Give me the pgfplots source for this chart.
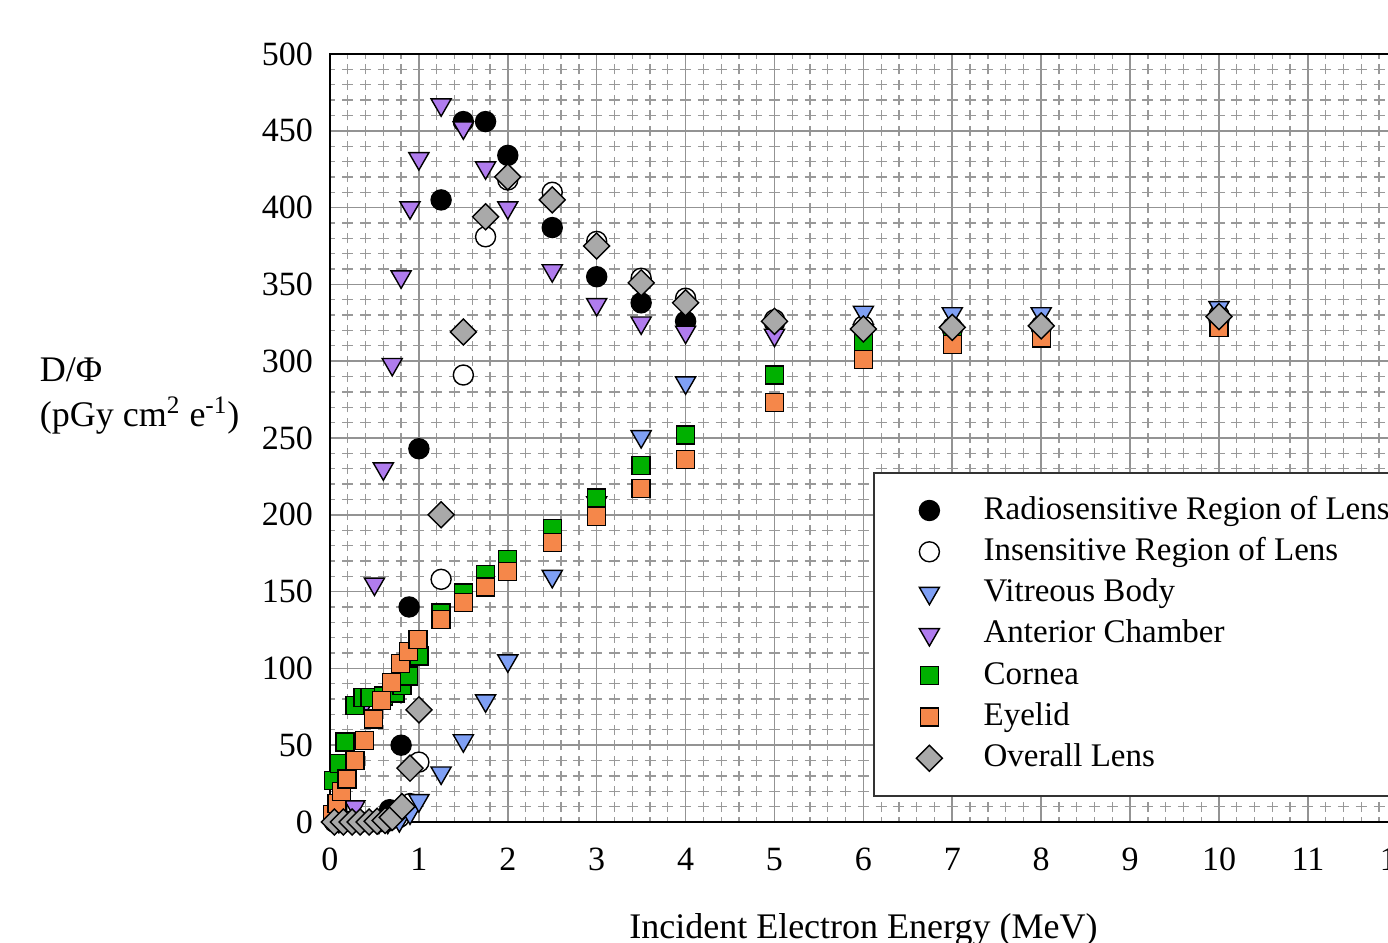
\documentclass[border=0pt]{standalone}
\usepackage{fontspec}
\setmainfont{Liberation Serif}
\usepackage{pgfplots}
\pgfplotsset{compat=1.18}

\definecolor{vitblue}{HTML}{7FA0F5}
\definecolor{antpurple}{HTML}{B07CEE}
\definecolor{corgreen}{HTML}{00B000}
\definecolor{eyeorange}{HTML}{F5874A}
\definecolor{lensgray}{HTML}{A9A9A9}

\newcommand{\tickfont}{\fontsize{17}{20}\selectfont}
\newcommand{\labfont}{\fontsize{18}{22.5}\selectfont}
\newcommand{\legfont}{\fontsize{16.5}{20}\selectfont}

\begin{document}
\begin{tikzpicture}
\useasboundingbox (-165pt,-60.5pt) rectangle (529pt,411pt);
\clip (-165pt,-60.5pt) rectangle (529pt,411pt);
\begin{axis}[
    at={(0,0)}, anchor=south west,
    scale only axis, width=533.4pt, height=384pt,
    xmin=0, xmax=12, ymin=0, ymax=500,
    xtick={0,1,...,12}, ytick={0,50,...,500},
    minor x tick num=4, minor y tick num=4,
    major tick length=0pt, minor tick length=0pt,
    grid=both,
    major grid style={gray!85, line width=0.8pt},
    minor x grid style={gray!80, line width=0.65pt, dash pattern=on 5pt off 2.68pt, dash phase=2.5pt},
    minor y grid style={gray!80, line width=0.65pt, dash pattern=on 5.5pt off 3.39pt, dash phase=2.75pt},
    axis line style={black, line width=1.2pt},
    /pgf/number format/assume math mode=true,
    tick label style={font=\tickfont},
    xticklabel style={yshift=-9.5pt},
    yticklabel style={xshift=-5pt},
    label style={font=\labfont},
    xlabel={Incident Electron Energy (MeV)},
    xlabel style={at={(axis description cs:0.5,0)}, anchor=center, yshift=-54pt},
    ylabel={D/Φ\\(pGy cm\textsuperscript{2} e\textsuperscript{-1})},
    ylabel style={rotate=-90, at={(axis description cs:-0.2785,0.555)}, anchor=west, align=left},
    legend cell align=left,
    legend image code/.code={\path (-10pt,0pt) (10pt,0pt); \draw[mark repeat=1,#1] plot coordinates {(0pt,0pt)};},
    legend style={at={(axis description cs:0.509,0.456)}, anchor=north west,
        draw=black!80, line width=1.2pt, fill=white, font=\legfont,
        inner xsep=17pt, inner ysep=10.5pt, column sep=16.5pt, row sep=4.15pt,
        nodes={inner sep=0pt, text height=12.5pt, text depth=4pt}},
]

% Radiosensitive Region of Lens
\addplot[only marks, mark=*, mark size=5pt, mark options={fill=black, draw=black, line width=0.7pt}]
coordinates {
(0.05,0)(0.15,0)(0.25,0)(0.35,0)(0.45,0)(0.55,0.5)(0.67,8)(0.8,50)(0.89,140)(1.0,243)
(1.25,405)(1.5,456)(1.75,456)(2.0,434)(2.5,387)(3.0,355)(3.5,338)(4.0,326)
(5,325)(6,322)(7,321)(8,322)(10,327)
};
\addlegendentry{Radiosensitive Region of Lens}

% Insensitive Region of Lens
\addplot[only marks, mark=*, mark size=5pt, mark options={fill=white, draw=black, line width=0.7pt}]
coordinates {
(0.05,0)(0.15,0)(0.25,0)(0.35,0)(0.45,0)(0.55,0)(0.65,0.5)(0.78,3)(0.9,12)(1.0,39)
(1.25,158)(1.5,291)(1.75,381)(2.0,418)(2.5,410)(3.0,378)(3.5,354)(4.0,341)
(5,327)(6,323)(7,322)(8,323)(10,330)
};
\addlegendentry{Insensitive Region of Lens}

% Vitreous Body
\addplot[only marks, mark=triangle*, mark size=5.8pt, mark options={rotate=180, fill=vitblue, draw=black, line width=0.7pt}]
coordinates {
(0.05,0)(0.15,0)(0.25,0)(0.35,0)(0.45,0)(0.55,0)(0.65,0)(0.78,1)(0.9,6)(1.0,14)
(1.25,32)(1.5,53)(1.75,79)(2.0,105)(2.5,160)(3.0,208)(3.5,251)(4.0,286)
(5,324)(6,332)(7,331)(8,331)(10,335)
};
\addlegendentry{Vitreous Body}

% Anterior Chamber
\addplot[only marks, mark=triangle*, mark size=5.8pt, mark options={rotate=180, fill=antpurple, draw=black, line width=0.7pt}]
coordinates {
(0.05,0)(0.1,0.5)(0.18,3)(0.28,10)(0.4,78)(0.5,155)(0.6,230)(0.7,298)(0.8,355)(0.9,400)(1.0,432)
(1.25,467)(1.5,452)(1.75,426)(2.0,400)(2.5,359)(3.0,337)(3.5,325)(4.0,319)
(5,317)(6,320)(7,320)(8,321)(10,327)
};
\addlegendentry{Anterior Chamber}

% Cornea
\addplot[only marks, mark=square*, mark size=4.5pt, mark options={fill=corgreen, draw=black, line width=0.7pt}]
coordinates {
(0.04,27)(0.11,38)(0.17,52)(0.28,76)(0.37,81)(0.45,81)(0.6,82)(0.73,84)(0.81,89)(0.88,95)(1.0,108)
(1.25,136)(1.5,149)(1.75,161)(2.0,171)(2.5,191)(3.0,211)(3.5,232)(4.0,252)
(5,291)(6,313)(7,318)(8,320)(10,324)
};
\addlegendentry{Cornea}

% Eyelid
\addplot[only marks, mark=square*, mark size=4.5pt, mark options={fill=eyeorange, draw=black, line width=0.7pt}]
coordinates {
(0.03,5)(0.08,12)(0.13,20)(0.19,28)(0.28,40)(0.39,53)(0.49,67)(0.58,79)(0.69,91)(0.79,103)(0.88,111)(0.99,119)
(1.25,132)(1.5,143)(1.75,153)(2.0,163)(2.5,182)(3.0,199)(3.5,217)(4.0,236)
(5,273)(6,301)(7,311)(8,315)(10,322)
};
\addlegendentry{Eyelid}

% Overall Lens
\addplot[only marks, mark=square*, mark size=4.6pt, mark options={rotate=45, fill=lensgray, draw=black, line width=0.7pt}]
coordinates {
(0.05,0)(0.15,0)(0.25,0)(0.34,0)(0.44,0)(0.53,0.5)(0.62,1)(0.7,3)(0.81,10)(0.9,35)(1.0,73)
(1.25,200)(1.5,319)(1.75,394)(2.0,420)(2.5,405)(3.0,375)(3.5,351)(4.0,338)
(5,326)(6,321)(7,322)(8,323)(10,329)
};
\addlegendentry{Overall Lens}

\end{axis}
\end{tikzpicture}
\end{document}
